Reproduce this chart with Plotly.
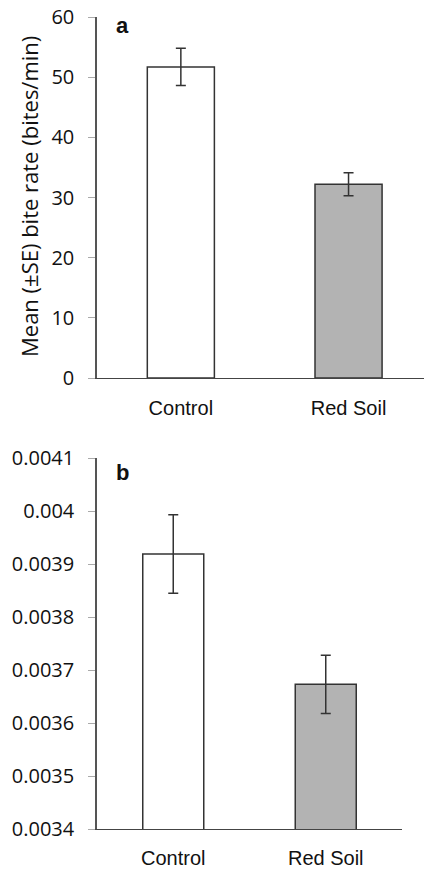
import plotly.graph_objects as go

categories = ["Control", "Red Soil"]
bite_rate = [51.7, 32.2]
bite_rate_se = [3.1, 1.9]
panel_b = [0.003919, 0.003673]
panel_b_se = [0.000074, 0.000055]
ticks_a = [0, 10, 20, 30, 40, 50, 60]
ticks_b = [0.0034, 0.0035, 0.0036, 0.0037, 0.0038, 0.0039, 0.004, 0.0041]
tick_text_b = ["0.0034", "0.0035", "0.0036", "0.0037", "0.0038", "0.0039", "0.004", "0.0041"]
y_title_a = "Mean (±SE) bite rate (bites/min)"

W, H = 424, 870


def px(x):
    return x / W


def py(y):
    return 1 - y / H


bar_colors = ["#ffffff", "#b3b3b3"]

fig = go.Figure()
fig.add_trace(go.Bar(
    x=categories, y=bite_rate, width=0.4,
    marker=dict(color=bar_colors, line=dict(color="#333333", width=1.5)),
    error_y=dict(type="data", array=bite_rate_se, color="#333333", thickness=1.5, width=5),
    xaxis="x", yaxis="y", showlegend=False,
))
fig.add_trace(go.Bar(
    x=categories, y=panel_b, width=0.4,
    marker=dict(color=bar_colors, line=dict(color="#333333", width=1.5)),
    error_y=dict(type="data", array=panel_b_se, color="#333333", thickness=1.5, width=5),
    xaxis="x2", yaxis="y2", showlegend=False,
))

tickfont = dict(family="Open Sans", size=20, color="#111111")
catfont = dict(family="Liberation Sans, Arial", size=20, color="#111111")

fig.update_layout(
    width=W, height=H,
    margin=dict(l=0, r=0, t=0, b=0),
    paper_bgcolor="white", plot_bgcolor="white",
    xaxis=dict(domain=[px(97), 1.0], range=[-0.5, 1.45], anchor="y", automargin=False,
               showline=True, linecolor="#444444", linewidth=1.2,
               ticks="", tickfont=catfont, ticklabelstandoff=12,
               showgrid=False, zeroline=False),
    yaxis=dict(domain=[py(378), py(17)], range=[0, 60], anchor="x", automargin=False,
               tickvals=ticks_a, showline=True, linecolor="#555555", linewidth=1.5,
               ticks="outside", ticklen=7, tickcolor="#aaaaaa", tickwidth=1,
               tickfont=tickfont, ticklabelstandoff=10, ticklabeloverflow="allow",
               showgrid=False, zeroline=False),
    xaxis2=dict(domain=[px(97), px(402)], range=[-0.5, 1.5], anchor="y2", automargin=False,
                showline=True, linecolor="#444444", linewidth=1.2,
                ticks="", tickfont=catfont, ticklabelstandoff=11,
                ticklabeloverflow="allow",
                showgrid=False, zeroline=False),
    yaxis2=dict(domain=[py(829), py(458)], range=[0.0034, 0.0041], anchor="x2",
                automargin=False,
                tickvals=ticks_b, ticktext=tick_text_b,
                showline=True, linecolor="#555555", linewidth=1.5,
                ticks="outside", ticklen=7, tickcolor="#aaaaaa", tickwidth=1,
                tickfont=tickfont, ticklabelstandoff=10, ticklabeloverflow="allow",
                showgrid=False, zeroline=False),
    annotations=[
        dict(text=y_title_a, x=px(29), y=py(197), xref="paper", yref="paper",
             xanchor="center", yanchor="middle", textangle=-90, showarrow=False,
             font=dict(family="Open Sans", size=22, color="#111111")),
        dict(text="<b>a</b>", x=px(114), y=py(25), xref="paper", yref="paper",
             xanchor="left", yanchor="middle", showarrow=False,
             font=dict(family="Liberation Sans, Arial", size=22, color="#111111")),
        dict(text="<b>b</b>", x=px(114), y=py(472), xref="paper", yref="paper",
             xanchor="left", yanchor="middle", showarrow=False,
             font=dict(family="Liberation Sans, Arial", size=22, color="#111111")),
    ],
)

# remove the browser's default 8px body margin so the figure fills the window
fig.write_html("out.html",
               config={"displayModeBar": False},
               post_script="document.body.style.margin='0';document.body.style.overflow='hidden';")
